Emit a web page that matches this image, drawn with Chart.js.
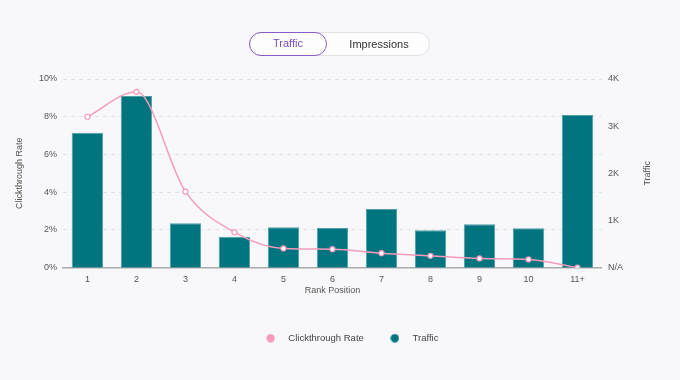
<!DOCTYPE html>
<html>
<head>
<meta charset="utf-8">
<script src="https://cdn.jsdelivr.net/npm/chart.js@4/dist/chart.umd.min.js"></script>
<style>
  html, body { margin: 0; padding: 0; background: #f8f8fb; width: 680px; height: 380px; overflow: hidden; font-family: "Liberation Sans", Arial, sans-serif; }
  #wrap { position: absolute; left: 0; top: 0; width: 680px; height: 380px; }
  #toggle { position: absolute; left: 249px; top: 32px; width: 181px; height: 24px; box-sizing: border-box; border: 1px solid #e0e0e6; border-radius: 12px; background: #fdfdfe; }
  #toggle .opt { position: absolute; box-sizing: border-box; font-size: 11px; text-align: center; }
  #t1 { left: -1px; top: -1px; width: 78px; height: 24px; line-height: 21px; border: 1.5px solid #8a5cc9; border-radius: 12px; color: #7a4cb8; }
  #t2 { left: 84px; top: 0; width: 90px; height: 22px; line-height: 22px; color: #333; }
</style>
</head>
<body>
<div id="wrap"><canvas id="c" width="680" height="380"></canvas></div>
<div id="toggle"><div class="opt" id="t1">Traffic</div><div class="opt" id="t2">Impressions</div></div>
<script>
const categories = ['1','2','3','4','5','6','7','8','9','10','11+'];
const ctrValues = [8.0, 9.32, 4.03, 1.88, 1.02, 0.98, 0.77, 0.63, 0.49, 0.44, 0.0];
const trafficValues = [2860, 3640, 940, 655, 857, 842, 1242, 795, 920, 836, 3236];
const ctrTicks = [0, 2, 4, 6, 8, 10];
const trafficTicks = [0, 1000, 2000, 3000, 4000];

const pink = '#f79ab9';
const teal = '#00757f';
const FONT = '"Liberation Sans", Arial, sans-serif';

function dot(color) {
  const c = document.createElement('canvas');
  c.width = 9; c.height = 9;
  const g = c.getContext('2d');
  g.fillStyle = color;
  g.beginPath(); g.arc(4.5, 4.5, 4.2, 0, Math.PI * 2); g.fill();
  return c;
}
const legendDots = [dot(pink), dot(teal)];

Chart.defaults.font.family = FONT;

const rightTitle = {
  id: 'rightTitle',
  afterDraw(chart) {
    const s = chart.scales.y1;
    const ctx = chart.ctx;
    ctx.save();
    ctx.font = '9px ' + FONT;
    ctx.fillStyle = '#555';
    ctx.textAlign = 'center';
    ctx.textBaseline = 'middle';
    ctx.translate(s.right - 5.4, (s.top + s.bottom) / 2);
    ctx.rotate(-Math.PI / 2);
    ctx.fillText('Traffic', 0, 0);
    ctx.restore();
  }
};

const legendShift = {
  id: 'legendShift',
  afterLayout(chart) {
    if (chart.legend) { chart.legend.left += 14; chart.legend.right += 14; }
  }
};

new Chart(document.getElementById('c'), {
  data: {
    labels: categories,
    datasets: [
      {
        type: 'line', label: 'Clickthrough Rate', data: ctrValues, yAxisID: 'y',
        borderColor: pink, borderWidth: 1.5, cubicInterpolationMode: 'monotone',
        pointRadius: 2.5, pointBackgroundColor: '#fff', pointBorderColor: pink, pointBorderWidth: 1.2
      },
      {
        type: 'bar', label: 'Traffic', data: trafficValues, yAxisID: 'y1',
        backgroundColor: teal, borderColor: '#4f9da5', borderWidth: 1,
        barPercentage: 0.8, categoryPercentage: 0.8
      }
    ]
  },
  plugins: [rightTitle, legendShift],
  options: {
    responsive: false,
    animation: false,
    devicePixelRatio: 1,
    layout: { padding: { top: 79, left: 14.6, right: 26.6, bottom: 27 } },
    plugins: {
      tooltip: { enabled: false },
      legend: {
        position: 'bottom',
        labels: {
          usePointStyle: true, pointStyleWidth: 26, boxHeight: 9,
          padding: 18, color: '#444', font: { size: 9.5 },
          generateLabels: (chart) => chart.data.datasets.map((ds, i) => ({
            text: ds.label, pointStyle: legendDots[i], datasetIndex: i,
            fillStyle: 'transparent', strokeStyle: 'transparent', lineWidth: 0, fontColor: '#444'
          }))
        }
      }
    },
    scales: {
      x: {
        grid: { display: false, drawTicks: false },
        border: { display: true, color: '#aaaaaa', width: 1.5 },
        ticks: { color: '#555', font: { size: 9 }, padding: 6.6 },
        title: { display: true, text: 'Rank Position', color: '#555', font: { size: 9 }, padding: { top: -7, bottom: 20 } }
      },
      y: {
        position: 'left', min: 0, max: 10,
        afterBuildTicks: (axis) => { axis.ticks = ctrTicks.map(v => ({ value: v })); },
        grid: { color: '#e2e2ec', drawTicks: false },
        border: { display: false, dash: [4, 4] },
        ticks: { color: '#555', font: { size: 9 }, padding: 6, callback: v => v + '%' },
        title: { display: true, text: 'Clickthrough Rate', color: '#555', font: { size: 9 }, padding: { top: 0, bottom: 7.5 } }
      },
      y1: {
        position: 'right', min: 0, max: 4000,
        afterBuildTicks: (axis) => { axis.ticks = trafficTicks.map(v => ({ value: v })); },
        grid: { display: false, drawTicks: false },
        border: { display: false },
        ticks: { color: '#555', font: { size: 9 }, padding: 6, callback: v => v === 0 ? 'N/A' : (v / 1000) + 'K' },
        title: { display: true, text: 'Traffic', color: 'transparent', font: { size: 9 }, padding: { top: 0, bottom: 13.6 } }
      }
    }
  }
});
</script>
</body>
</html>
